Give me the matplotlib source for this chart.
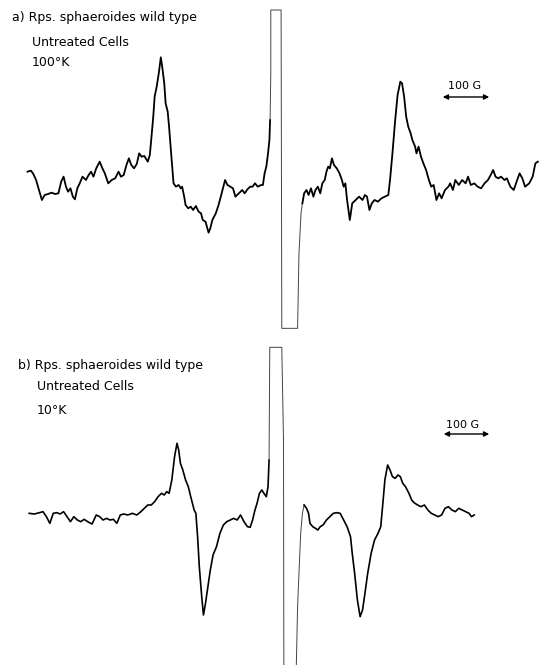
import matplotlib.pyplot as plt

# EPR traces (field in chart units, deflection downwards)
# panel a) 100 K
field_a1 = [80, 90, 97, 105, 112, 122, 130, 140, 150, 160, 170, 178, 185, 192, 198, 205, 212, 218, 225, 232,
            240, 250, 258, 265, 272, 280, 290, 298, 305, 315, 325, 335, 345, 352, 360, 368, 375, 382, 390, 398,
            405, 412, 420, 430, 436, 440, 446, 450, 456, 462, 468, 472, 478, 482, 488, 492, 498, 505, 512, 520,
            526, 530, 536, 540, 548, 555, 562, 570, 578, 585, 590, 598, 607, 612, 618, 628, 636, 645, 655, 662,
            670, 678, 685, 695, 705, 712, 720, 728, 735, 742, 750, 760, 765, 770, 775, 780, 784, 786]
sig_a1 = [395, 392, 402, 420, 445, 480, 465, 462, 458, 462, 460, 425, 410, 440, 455, 445, 470, 478, 445, 430,
          410, 420, 405, 395, 410, 385, 365, 385, 400, 430, 420, 415, 395, 410, 405, 375, 355, 375, 385, 372,
          340, 350, 348, 365, 345, 300, 230, 170, 140, 100, 52, 80, 130, 190, 215, 260, 340, 430, 440, 435,
          445, 440, 470, 495, 505, 500, 510, 498, 515, 520, 540, 545, 578, 565, 540, 520, 495, 460, 420, 435,
          440, 445, 470, 460, 450, 460, 448, 440, 440, 430, 440, 435, 435, 400, 380, 340, 300, 240]
field_a_fast = [786, 788, 788, 818, 820, 866, 870, 876, 880]
sig_a_fast = [240, 100, -90, -90, 865, 865, 640, 520, 490]
field_a2 = [880, 885, 892, 898, 905, 912, 918, 925, 932, 938, 945, 950, 955, 960, 966, 972, 980, 988, 995, 1000,
            1005, 1010, 1018, 1025, 1035, 1045, 1055, 1062, 1068, 1075, 1082, 1090, 1100, 1110, 1120, 1130, 1135,
            1142, 1150, 1157, 1165, 1170, 1176, 1182, 1188, 1195, 1200, 1208, 1212, 1218, 1225, 1232, 1240, 1248,
            1255, 1262, 1270, 1278, 1285, 1295, 1305, 1310, 1318, 1325, 1335, 1345, 1355, 1362, 1370, 1380, 1390,
            1400, 1410, 1420, 1428, 1435, 1442, 1450, 1458, 1468, 1475, 1485, 1495, 1505, 1512, 1520, 1528, 1540,
            1550, 1558, 1565]
sig_a2 = [490, 460, 450, 465, 445, 470, 450, 440, 460, 430, 420, 395, 380, 385, 355, 375, 385, 400, 420, 440,
          430, 480, 540, 490, 480, 470, 480, 465, 470, 510, 490, 480, 485, 475, 470, 465, 420,
          340, 240, 165, 125, 130, 170, 230, 260, 280, 300, 320, 340, 320, 350, 370, 390, 420,
          440, 435, 480, 460, 475, 450, 440, 430, 450, 420, 435, 420, 430, 410, 435, 430, 440,
          445, 430, 420, 405, 390, 410, 415, 410, 420, 415, 440, 450, 420, 400, 415, 440, 430,
          410, 370, 365]

# panel b) 10 K
field_b1 = [85, 100, 115, 125, 135, 145, 155, 165, 175, 185, 195, 205, 215, 225, 235, 245, 255, 268, 280, 290,
            300, 310, 320, 330, 340, 350, 360, 372, 385, 398, 410, 420, 430, 440, 450, 460, 470, 478, 485, 492,
            500, 508, 515, 520, 525, 532, 540, 548, 555, 565, 570, 575, 580, 587, 592, 598, 605, 612, 620, 630,
            640, 650, 660, 670, 680, 690, 700, 710, 720, 728, 735, 742, 748, 755, 762, 768, 775, 780, 783]
sig_b1 = [520, 522, 518, 515, 530, 550, 520, 518, 522, 515, 530, 545, 530, 540, 545, 538, 545, 552, 525, 530,
          540, 535, 540, 538, 550, 525, 522, 525, 520, 525, 515, 505, 495, 495, 485, 470, 460, 465, 455, 460,
          420, 350, 310, 330, 370, 390, 420, 440, 470, 510, 520, 590, 680, 770, 825, 790, 740, 690, 645, 620,
          580, 555, 545, 540, 535, 540, 525, 545, 560, 562, 540, 510, 490, 460, 450, 460, 470, 440, 360]
field_b_fast = [783, 785, 820, 825, 826, 862, 866, 870, 875, 880, 885]
sig_b_fast = [360, 22, 22, 300, 990, 990, 800, 700, 580, 520, 495]
field_b2 = [885, 892, 898, 902, 910, 918, 925, 932, 940, 950, 960, 970, 980, 990, 1000, 1010, 1020, 1025, 1032,
            1040, 1048, 1055, 1062, 1070, 1080, 1090, 1100, 1108, 1115, 1120, 1128, 1135, 1142, 1150, 1158, 1165,
            1172, 1180, 1190, 1198, 1205, 1215, 1225, 1235, 1245, 1255, 1265, 1275, 1285, 1295, 1305, 1315, 1325,
            1335, 1345, 1355, 1365, 1372, 1380]
sig_b2 = [495, 505, 520, 550, 560, 565, 570, 560, 555, 540, 530, 520, 518, 520, 540, 560, 590, 640, 700,
          780, 830, 810, 760, 700, 640, 600, 580, 560, 480, 420, 375, 390, 410, 415, 405, 410,
          430, 440, 460, 480, 488, 495, 500, 495, 510, 520, 525, 530, 525, 505, 500, 510, 515,
          505, 510, 515, 520, 530, 525]

labels_a = ["a) Rps. sphaeroides wild type", "Untreated Cells", "100°K"]
labels_b = ["b) Rps. sphaeroides wild type", "Untreated Cells", "10°K"]
scale_label = "100 G"

W, H = 539, 665
fig = plt.figure(figsize=(W / 100, H / 100), dpi=100)

ax_a = fig.add_axes([0, 325 / H, 1, 340 / H])
ax_a.plot(field_a1, sig_a1, color='black', lw=1.3)
ax_a.plot(field_a_fast, sig_a_fast, color='#444444', lw=0.7)
ax_a.plot(field_a2, sig_a2, color='black', lw=1.3)
ax_a.set_xlim(0, 1568.5)
ax_a.set_ylim(900, -120)
ax_a.axis('off')

ax_b = fig.add_axes([0, 0, 1, 325 / H])
ax_b.plot(field_b1, sig_b1, color='black', lw=1.2)
ax_b.plot(field_b_fast, sig_b_fast, color='#444444', lw=0.7)
ax_b.plot(field_b2, sig_b2, color='black', lw=1.2)
ax_b.set_xlim(0, 1568.5)
ax_b.set_ylim(975, 0)
ax_b.axis('off')


def px(x, y):
    return x / W, 1 - y / H


font = dict(fontsize=9, family=['DejaVu Sans'], va='center', ha='left', color='black')
for lab, (x, y) in zip(labels_a, [(12, 18), (32, 43), (32, 62)]):
    fig.text(*px(x, y), lab, **font)
for lab, (x, y) in zip(labels_b, [(18, 365), (37, 387), (37, 410)]):
    fig.text(*px(x, y), lab, **font)

# 100 G scale bars
for (tx, ty), (x0, x1, ya) in [((465, 86), (440, 492, 97)), ((463, 425), (441, 492, 434))]:
    fig.text(*px(tx, ty), scale_label, fontsize=8, ha='center', va='center', color='black')
    fig.add_artist(plt.matplotlib.patches.FancyArrowPatch(
        px(x0, ya), px(x1, ya), transform=fig.transFigure,
        arrowstyle='<|-|>,head_length=3,head_width=1.5', color='black', lw=1.0))

fig.savefig('out.png', dpi=100)
